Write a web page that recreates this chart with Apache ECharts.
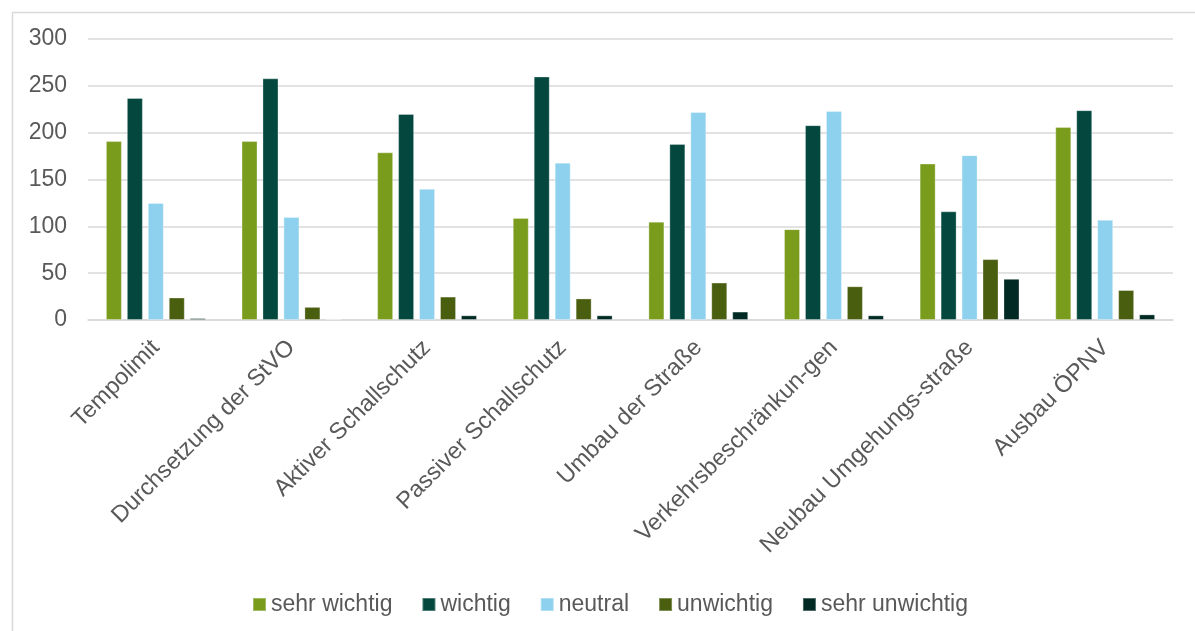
<!DOCTYPE html>
<html>
<head>
<meta charset="utf-8">
<script src="https://cdn.jsdelivr.net/npm/echarts@6/dist/echarts.min.js"></script>
<style>
  html, body { margin: 0; padding: 0; background: #fff; }
  #chart { width: 1195px; height: 631px; }
</style>
</head>
<body>
<div id="chart"></div>
<script>
// categories on the x axis
var categories = [
  'Tempolimit',
  'Durchsetzung der StVO',
  'Aktiver Schallschutz',
  'Passiver Schallschutz',
  'Umbau der Straße',
  'Verkehrsbeschränkun-gen',
  'Neubau Umgehungs-straße',
  'Ausbau ÖPNV'
];

// answers per category
var sehrWichtig    = [191, 191, 179, 109, 105,  97, 167, 206];
var wichtig        = [237, 258, 220, 260, 188, 208, 116, 224];
var neutral        = [125, 110, 140, 168, 222, 223, 176, 107];
var unwichtig      = [ 24,  14,  25,  23,  40,  36,  65,  32];
var sehrUnwichtig  = [  2,   1,   5,   5,   9,   5,  44,   6];

var seriesNames = ['sehr wichtig', 'wichtig', 'neutral', 'unwichtig', 'sehr unwichtig'];
var seriesData = [sehrWichtig, wichtig, neutral, unwichtig, sehrUnwichtig];
var colors = ['#7a9c1c', '#03473f', '#8ed1ee', '#4a5e10', '#022a25'];

var font = 'Liberation Sans, Arial, sans-serif';
var textColor = '#595959';

var chart = echarts.init(document.getElementById('chart'));

var series = seriesNames.map(function (name, i) {
  return {
    name: name,
    type: 'bar',
    data: seriesData[i],
    barWidth: 16,
    barGap: '31%',
    itemStyle: {
      color: colors[i],
      borderColor: 'rgba(255,255,255,0.3)',
      borderWidth: 1
    }
  };
});

var option = {
  animation: false,
  color: colors,
  graphic: [{
    type: 'rect',
    left: 10,
    top: 10,
    shape: { width: 1200, height: 640 },
    style: { fill: 'none', stroke: '#d9d9d9', lineWidth: 1.5 },
    silent: true
  }],
  grid: {
    left: 88,
    right: 22,
    top: 39,
    bottom: 311
  },
  legend: {
    data: seriesNames,
    left: 247,
    top: 588,
    itemWidth: 13,
    itemHeight: 13,
    itemGap: 29,
    icon: 'rect',
    textStyle: { color: textColor, fontSize: 23, fontFamily: font }
  },
  xAxis: {
    type: 'category',
    data: categories,
    axisTick: { show: false },
    axisLine: { lineStyle: { color: '#d9d9d9', width: 1.5 } },
    axisLabel: {
      rotate: 45,
      interval: 0,
      margin: 24,
      color: textColor,
      fontSize: 23.5,
      fontFamily: font
    }
  },
  yAxis: {
    type: 'value',
    min: 0,
    max: 300,
    interval: 50,
    axisLine: { show: false },
    axisTick: { show: false },
    splitLine: { lineStyle: { color: '#d9d9d9', width: 1.5 } },
    axisLabel: {
      margin: 21,
      color: textColor,
      fontSize: 23,
      fontFamily: font
    }
  },
  series: series
};

chart.setOption(option);
</script>
</body>
</html>
